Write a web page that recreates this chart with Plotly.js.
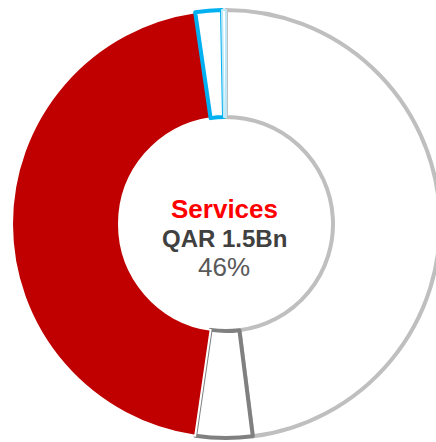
<!DOCTYPE html>
<html><head><meta charset="utf-8">
<script src="https://cdn.plot.ly/plotly-3.0.1.min.js"></script>
<style>html,body{margin:0;padding:0;overflow:hidden;background:#fff}</style>
</head><body>
<div id="chart" style="width:444px;height:442px"></div>
<script>
const labels = ["Other", "Segment B", "Services", "Segment D", "Segment E"];
const values = [48, 4.3, 45.4, 2, 0.3];
const fills = ["#ffffff", "#ffffff", "#c00000", "#ffffff", "#ffffff"];
const lineColors = ["#bfbfbf", "#808080", "#ffffff", "#00b0f0", "#bde8f8"];
const lineWidths = [4, 4, 2, 4, 2];

const centerTitle = "Services";
const centerValue = "QAR 1.5Bn";
const centerPct = "46%";

Plotly.newPlot("chart", [{
  type: "pie",
  labels: labels,
  values: values,
  hole: 0.5,
  sort: false,
  direction: "clockwise",
  rotation: 0,
  textinfo: "none",
  hoverinfo: "none",
  showlegend: false,
  marker: {colors: fills, line: {color: lineColors, width: lineWidths}},
  domain: {x: [0, 1], y: [0, 1]}
}], {
  width: 444, height: 442,
  margin: {l: 12, r: 4, t: 10, b: 4},
  paper_bgcolor: "#fff",
  font: {family: "Liberation Sans, Arial, sans-serif"},
  annotations: [
    {text: "<b>" + centerTitle + "</b>", x: 0.5, y: 0.5, xref: "paper", yref: "paper", xshift: -2, yshift: 15, showarrow: false, font: {size: 26, color: "#ff0000"}},
    {text: "<b>" + centerValue + "</b>", x: 0.5, y: 0.5, xref: "paper", yref: "paper", xshift: -2, yshift: -14, showarrow: false, font: {size: 24, color: "#404040"}},
    {text: centerPct, x: 0.5, y: 0.5, xref: "paper", yref: "paper", xshift: -2, yshift: -43, showarrow: false, font: {size: 26, color: "#595959"}}
  ]
}, {staticPlot: true, displayModeBar: false});
</script>
</body></html>
